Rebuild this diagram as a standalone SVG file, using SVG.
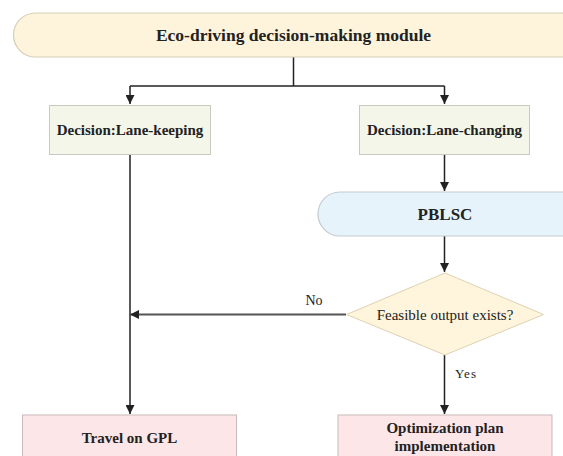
<svg xmlns="http://www.w3.org/2000/svg" width="563" height="456" viewBox="0 0 563 456">
<style>
  .lbl{font-family:"Liberation Serif","Times New Roman",serif;fill:#222;text-anchor:middle}
  .b{font-weight:bold}
  .ln{fill:none;stroke:#222;stroke-width:1.5}
</style>
<defs>
  <marker id="ah2" viewBox="0 0 10 10" refX="10" refY="5" markerWidth="9" markerHeight="9" orient="auto" markerUnits="userSpaceOnUse">
    <path d="M0,0 L10,5 L0,10 z" fill="#222"/>
  </marker>
</defs>
<rect width="563" height="456" fill="#fff"/>
<g id="connectors">
  <path class="ln" d="M293.5,57 V86"/>
  <path class="ln" d="M130,86 H444.5"/>
  <path class="ln" d="M130,86 V104" marker-end="url(#ah2)"/>
  <path class="ln" d="M444.5,86 V104" marker-end="url(#ah2)"/>
  <path class="ln" d="M444.5,155 V191" marker-end="url(#ah2)"/>
  <path class="ln" d="M444.5,236 V272" marker-end="url(#ah2)"/>
  <path class="ln" d="M130,155 V414" marker-end="url(#ah2)"/>
  <path fill="none" stroke="#555" stroke-width="2" d="M346,314.5 H131"/>
  <path d="M130,314.5 L139,310 L139,319 z" fill="#222"/>
  <path class="ln" d="M444.5,355 V414" marker-end="url(#ah2)"/>
  <text class="lbl" x="314" y="305" font-size="14">No</text>
  <text class="lbl" x="466" y="378" font-size="13" letter-spacing="1">Yes</text>
</g>
<g id="eco">
  <rect x="13.5" y="13" width="570" height="44" rx="22" ry="22" fill="#fef4dc" stroke="#d6cdb8" stroke-width="1.2"/>
  <text class="lbl b" x="293.5" y="41" font-size="17.5">Eco-driving decision-making module</text>
</g>
<g id="lanekeep">
  <rect x="49.5" y="105.5" width="161" height="49" fill="#f5f6ea" stroke="#c9c9c0" stroke-width="1"/>
  <text class="lbl b" x="130" y="135" font-size="15">Decision:Lane-keeping</text>
</g>
<g id="lanechange">
  <rect x="359.5" y="105.5" width="170" height="49" fill="#f5f6ea" stroke="#c9c9c0" stroke-width="1"/>
  <text class="lbl b" x="444.5" y="135" font-size="15">Decision:Lane-changing</text>
</g>
<g id="pblsc">
  <rect x="318" y="192" width="270" height="44" rx="22" ry="22" fill="#e6f3fa" stroke="#c3cbd2" stroke-width="1.2"/>
  <text class="lbl b" x="445" y="220" font-size="17">PBLSC</text>
</g>
<g id="feasible">
  <path d="M445,273 L543.5,314.5 L445,355 L346.5,314.5 z" fill="#fff4dc" stroke="#ddd2b2" stroke-width="1"/>
  <text class="lbl" x="445" y="320" font-size="15">Feasible output exists?</text>
</g>
<g id="gpl">
  <rect x="22.5" y="415" width="214" height="60" fill="#fce6e8" stroke="#c9b9ba" stroke-width="1"/>
  <text class="lbl b" x="129.5" y="443" font-size="15">Travel on GPL</text>
</g>
<g id="optim">
  <rect x="338" y="415" width="214" height="60" fill="#fce6e8" stroke="#c9b9ba" stroke-width="1"/>
  <text class="lbl b" x="445" y="433" font-size="15">Optimization plan</text>
  <text class="lbl b" x="445" y="451" font-size="15">implementation</text>
</g>
</svg>
